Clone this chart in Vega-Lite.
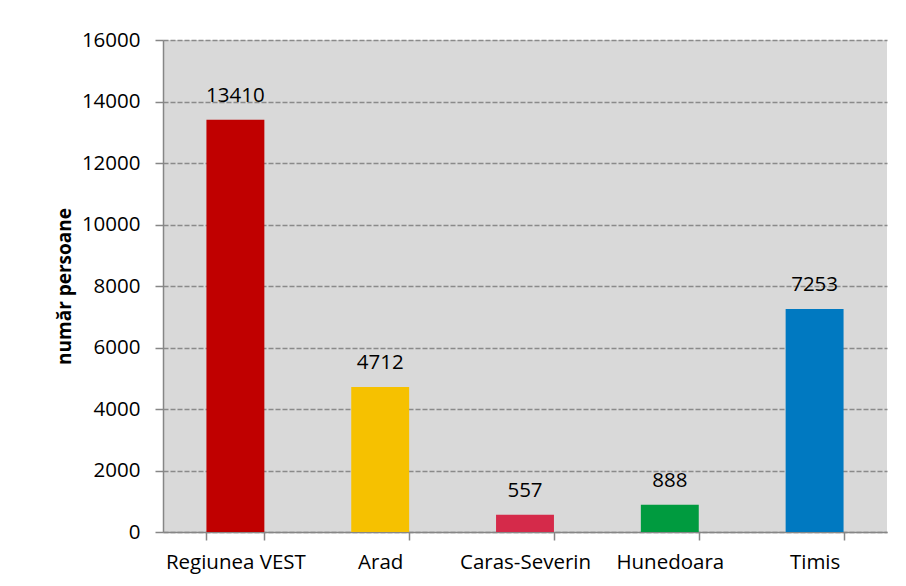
{
  "$schema": "https://vega.github.io/schema/vega-lite/v6.json",
  "width": 724,
  "height": 492,
  "autosize": {"type": "none"},
  "padding": {"left": 163, "top": 40, "right": 19, "bottom": 54},
  "background": "white",
  "config": {
    "view": {"fill": "#D9D9D9", "stroke": null},
    "font": "Open Sans"
  },
  "data": {
    "values": [
      {"region": "Regiunea VEST", "persoane": 13410},
      {"region": "Arad", "persoane": 4712},
      {"region": "Caras-Severin", "persoane": 557},
      {"region": "Hunedoara", "persoane": 888},
      {"region": "Timis", "persoane": 7253}
    ]
  },
  "encoding": {
    "x": {
      "field": "region",
      "type": "nominal",
      "sort": null,
      "scale": {"paddingInner": 0.6, "paddingOuter": 0.3},
      "axis": {
        "title": null,
        "labelAngle": 0,
        "labelFont": "Open Sans",
        "labelFontSize": 20.5,
        "labelColor": "#000000",
        "labelPadding": 12,
        "tickBand": "extent",
        "tickSize": 8,
        "tickColor": "#868686",
        "tickWidth": 1.5,
        "domainColor": "#868686",
        "domainWidth": 1.5,
        "grid": false
      }
    },
    "y": {
      "field": "persoane",
      "type": "quantitative",
      "scale": {"domain": [0, 16000], "nice": false},
      "axis": {
        "title": "număr persoane",
        "titleFont": "Open Sans",
        "titleFontSize": 19,
        "titleFontWeight": "bold",
        "titleColor": "#000000",
        "titleX": -99,
        "titleY": 246,
        "titleAngle": -90,
        "titleAlign": "center",
        "titleBaseline": "middle",
        "values": [0, 2000, 4000, 6000, 8000, 10000, 12000, 14000, 16000],
        "format": "d",
        "labelFont": "Open Sans",
        "labelFontSize": 20.5,
        "labelColor": "#000000",
        "labelPadding": 15,
        "tickSize": 8,
        "tickColor": "#868686",
        "tickWidth": 1.5,
        "domainColor": "#868686",
        "domainWidth": 1.5,
        "grid": true,
        "gridColor": "#8a8a8a",
        "gridDash": [5, 2],
        "gridWidth": 1.3
      }
    }
  },
  "layer": [
    {
      "mark": {"type": "bar"},
      "encoding": {
        "color": {
          "field": "region",
          "type": "nominal",
          "legend": null,
          "scale": {
            "domain": ["Regiunea VEST", "Arad", "Caras-Severin", "Hunedoara", "Timis"],
            "range": ["#C00000", "#F6C100", "#D52A4A", "#009B3F", "#0079C1"]
          }
        }
      }
    },
    {
      "mark": {
        "type": "text",
        "baseline": "bottom",
        "dy": -14,
        "fontSize": 20.5,
        "font": "Open Sans",
        "color": "#000000"
      },
      "encoding": {
        "text": {"field": "persoane", "type": "quantitative", "format": "d"}
      }
    }
  ]
}
